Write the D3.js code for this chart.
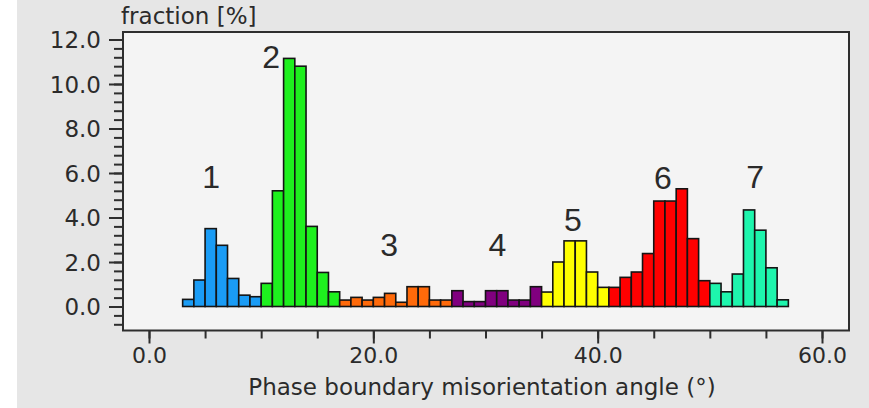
<!DOCTYPE html>
<html><head><meta charset="utf-8">
<script src="https://cdn.jsdelivr.net/npm/d3@7"></script>
<style>html,body{margin:0;padding:0;background:#fff;}svg{display:block;}</style>
</head><body>
<svg id="chart" width="869" height="408"></svg>
<script>
// ---- data ----
const binStart = [3,4,5,6,7,8,9,10,11,12,13,14,15,16,17,18,19,20,21,22,23,24,25,26,27,28,29,30,31,32,33,34,35,36,37,38,39,40,41,42,43,44,45,46,47,48,49,50,51,52,53,54,55,56];
const fraction = [0.32,1.19,3.5,2.75,1.26,0.51,0.44,
  1.04,5.2,11.15,10.8,3.6,1.53,0.66,
  0.29,0.41,0.29,0.41,0.59,0.19,0.89,0.89,0.29,0.29,
  0.71,0.22,0.22,0.71,0.71,0.29,0.29,0.89,
  0.65,2.0,2.95,2.95,1.55,0.86,
  0.86,1.31,1.55,2.38,4.74,4.74,5.29,3.05,1.16,
  1.04,0.66,1.46,4.34,3.43,1.74,0.3];
const groupNames = ["1","2","3","4","5","6","7"];
const groupStart = [3,10,17,27,35,41,50];
const groupColors = ["#1a9cf5","#1ef01e","#ff6a0a","#80007f","#ffff00","#ff0000","#1ef5ad"];
const labelX = [5.53,10.88,21.4,31.07,37.8,45.82,54.03];
const labelY = [5.33,10.72,2.27,2.27,3.39,5.28,5.33];
const xTicks = [0,20,40,60];
const xTickLabels = ["0.0","20.0","40.0","60.0"];
const yTicks = [0,2,4,6,8,10,12];
const yTickLabels = ["0.0","2.0","4.0","6.0","8.0","10.0","12.0"];
const xTitle = "Phase boundary misorientation angle (°)";
const yTitle = "fraction [%]";

// ---- layout ----
const svg = d3.select("#chart");
const L = 123, R = 849, T = 32, B = 330.5;
const FS = 23, FT = 22;
const x = d3.scaleLinear().domain([0,60]).range([149,822]);
const y = d3.scaleLinear().domain([0,12]).range([306.5,39.5]);

svg.append("rect").attr("x",0).attr("y",0).attr("width",869).attr("height",408).attr("fill","#e6e6e6");
svg.append("rect").attr("x",0).attr("y",0).attr("width",17).attr("height",408).attr("fill","#ffffff");
svg.append("rect").attr("x",L).attr("y",T).attr("width",R-L).attr("height",B-T).attr("fill","#f4f4f4");

function groupIndex(a){ let g=0; for(let i=0;i<groupStart.length;i++) if(a>=groupStart[i]) g=i; return g; }

svg.append("g").selectAll("rect").data(binStart.map((a,i)=>({a,v:fraction[i]})))
  .join("rect")
  .attr("x",d=>x(d.a)).attr("width",d=>x(d.a+1)-x(d.a))
  .attr("y",d=>y(d.v)).attr("height",d=>y(0)-y(d.v))
  .attr("fill",d=>groupColors[groupIndex(d.a)])
  .attr("stroke","#141414").attr("stroke-width",1.6);

// frame
svg.append("rect").attr("x",L).attr("y",T).attr("width",R-L).attr("height",B-T)
  .attr("fill","none").attr("stroke","#2e2e2e").attr("stroke-width",2);

// y axis
const yMinor = d3.range(-0.8, 12.01, 0.4);
const yAx = svg.append("g").attr("transform",`translate(${L},0)`);
yAx.call(d3.axisLeft(y).tickValues(yMinor).tickSize(9).tickFormat(""));
yAx.call(g=>g.select(".domain").remove());
const yMaj = svg.append("g").attr("transform",`translate(${L},0)`)
  .call(d3.axisLeft(y).tickValues(yTicks).tickSize(14).tickPadding(8).tickFormat((d,i)=>yTickLabels[i]));
yMaj.select(".domain").remove();
yMaj.selectAll("text").attr("font-family","DejaVu Sans").attr("font-size",FS).attr("fill","#2b2b2b").attr("dy","0.36em");

// x axis
const xMinor = d3.range(0, 60.01, 5);
const xAx = svg.append("g").attr("transform",`translate(0,${B})`);
xAx.call(d3.axisBottom(x).tickValues(xMinor).tickSize(8).tickFormat(""));
xAx.select(".domain").remove();
const xMaj = svg.append("g").attr("transform",`translate(0,${B})`)
  .call(d3.axisBottom(x).tickValues(xTicks).tickSize(13).tickPadding(4).tickFormat((d,i)=>xTickLabels[i]));
xMaj.select(".domain").remove();
xMaj.selectAll("text").attr("font-family","DejaVu Sans").attr("font-size",FT).attr("fill","#2b2b2b");
svg.selectAll(".tick line").attr("stroke","#2e2e2e").attr("stroke-width",2);

// titles
svg.append("text").attr("x",482).attr("y",395).attr("text-anchor","middle")
  .attr("font-family","DejaVu Sans").attr("font-size",FS).attr("fill","#2b2b2b").text(xTitle);
svg.append("text").attr("x",121).attr("y",24).attr("text-anchor","start")
  .attr("font-family","DejaVu Sans").attr("font-size",FS).attr("fill","#2b2b2b").text(yTitle);

// peak labels
svg.append("g").selectAll("text").data(groupNames).join("text")
  .attr("x",(d,i)=>x(labelX[i])).attr("y",(d,i)=>y(labelY[i]))
  .attr("text-anchor","middle").attr("font-family","Liberation Sans").attr("font-size",32)
  .attr("fill","#2a2a2a").text(d=>d);
</script>
</body></html>
